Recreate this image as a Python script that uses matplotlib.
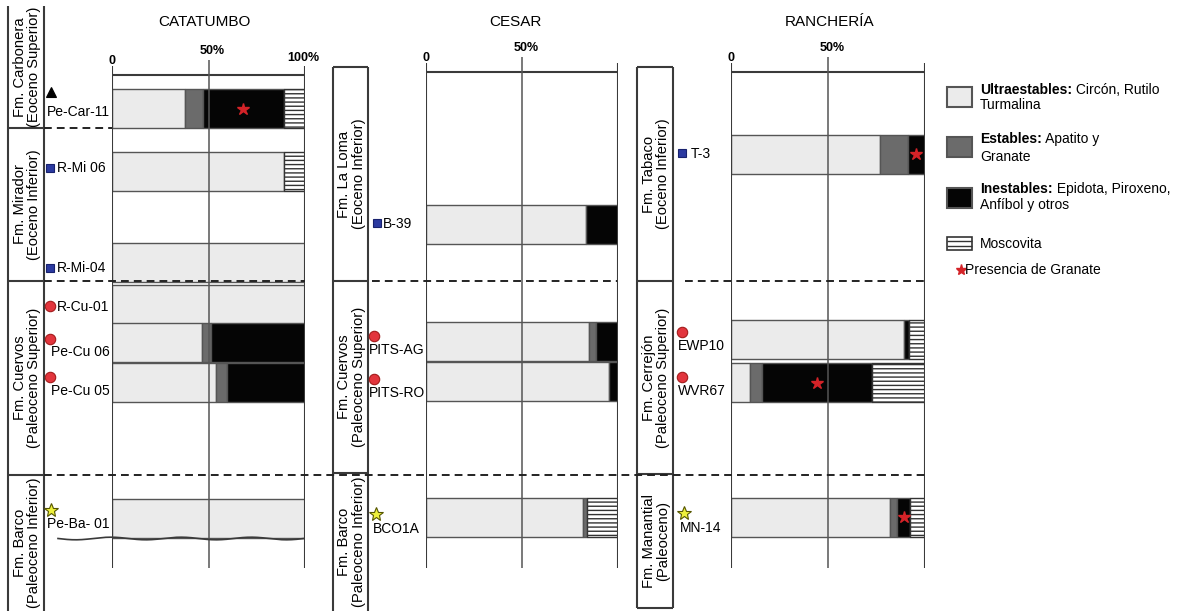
import numpy as np
import matplotlib.pyplot as plt
from matplotlib.patches import Rectangle

plt.rcParams['font.family'] = ['Liberation Sans', 'DejaVu Sans']
plt.rcParams['hatch.linewidth'] = 1.0

W, H = 1190, 611

# --- Catatumbo ---
cat_samples = ['Pe-Car-11', 'R-Mi 06', 'R-Mi-04', 'R-Cu-01', 'Pe-Cu 06', 'Pe-Cu 05', 'Pe-Ba- 01']
cat_ultra = [38, 89, 100, 100, 46.5, 54, 100]
cat_estable = [9, 0, 0, 0, 5, 5.5, 0]
cat_inestable = [42, 0, 0, 0, 48.5, 40.5, 0]
cat_moscovita = [11, 11, 0, 0, 0, 0, 0]
cat_granate = [True, False, False, False, False, False, False]
cat_symbol = ['^', 's', 's', 'o', 'o', 'o', '*']
cat_forms = ['Fm. Carbonera\n(Eoceno Superior)', 'Fm. Mirador\n(Eoceno Inferior)',
             'Fm. Cuervos\n(Paleoceno Superior)', 'Fm. Barco\n(Paleoceno Inferior)']

# --- Cesar ---
ces_samples = ['B-39', 'PITS-AG', 'PITS-RO', 'BCO1A']
ces_ultra = [83.5, 85, 95.5, 82]
ces_estable = [0, 3.5, 0, 2]
ces_inestable = [16.5, 11.5, 4.5, 0]
ces_moscovita = [0, 0, 0, 16]
ces_granate = [False, False, False, False]
ces_symbol = ['s', 'o', 'o', '*']
ces_forms = ['Fm. La Loma\n(Eoceno Inferior)', 'Fm. Cuervos\n(Paleoceno Superior)',
             'Fm. Barco\n(Paleoceno Inferior)']

# --- Rancheria ---
ran_samples = ['T-3', 'EWP10', 'WVR67', 'MN-14']
ran_ultra = [77, 89, 10, 82]
ran_estable = [14, 0, 6, 3.5]
ran_inestable = [9, 3, 56.5, 7]
ran_moscovita = [0, 8, 27.5, 7.5]
ran_granate = [True, False, True, True]
ran_symbol = ['s', 'o', 'o', '*']
ran_forms = ['Fm. Tabaco\n(Eoceno Inferior)', 'Fm. Cerrejón\n(Paleoceno Superior)',
             'Fm. Manantial\n(Paleoceno)']

fills = [('#ebebeb', None), ('#6b6b6b', None), ('#050505', None), ('white', '----')]
sym_style = {
    '^': dict(color='black', mec='black', ms=7),
    's': dict(color='#2b3aa0', mec='#18226e', ms=5.5),
    'o': dict(color='#e2353d', mec='#a31b1b', ms=7.5),
    '*': dict(color='#eef03c', mec='#555500', ms=10),
}
LINE = '#3a3a3a'
GRANATE = '#d42328'

fig = plt.figure(figsize=(W / 100, H / 100), dpi=100)


def draw_panel(name, x0, x100, top, ys, parts, granate, show100, title_x):
    ax = fig.add_axes([x0 / W, 0, (x100 - x0) / W, 1])
    ax.set_xlim(0, 100)
    ax.set_ylim(H, 0)
    ax.set_axis_off()
    ys = np.array(ys)
    left = np.zeros(len(ys))
    for vals, (fc, hatch) in zip(parts, fills):
        vals = np.array(vals, dtype=float)
        m = vals > 0
        ax.barh(ys[m], vals[m], left=left[m], height=39, color=fc,
                edgecolor='#333333' if hatch else '#555555', linewidth=1.0, hatch=hatch, zorder=2)
        left += vals
    # granate marks in the middle of the unstable fraction
    start = np.array(parts[0]) + np.array(parts[1])
    mid = start + np.array(parts[2]) / 2
    for yy, xx, g in zip(ys, mid, granate):
        if g:
            ax.plot(xx, yy, marker='*', color=GRANATE, ms=9, mec=GRANATE, zorder=4)
    ax.hlines(top, 0, 100, color=LINE, lw=1.5, zorder=3)
    ax.vlines([0, 100], top - 9, 568, color=LINE, lw=1.5, zorder=3)
    ax.vlines(50, top - 15, 568, color='#555555', lw=1.1, zorder=3)
    ax.text(0, top - 14, '0', ha='center', va='center', fontsize=9, fontweight='bold')
    ax.text(52, top - 24, '50%', ha='center', va='center', fontsize=9, fontweight='bold')
    if show100:
        ax.text(99, top - 17, '100%', ha='center', va='center', fontsize=9, fontweight='bold')
    ax.text(title_x, 22, name, ha='center', va='center', fontsize=11)
    return ax


draw_panel('CATATUMBO', 112, 305, 75, [108.5, 171, 262.5, 304, 342.5, 382, 518.5],
           [cat_ultra, cat_estable, cat_inestable, cat_moscovita], cat_granate, True, 48)
draw_panel('CESAR', 426, 618, 72, [224, 341.5, 381.5, 517],
           [ces_ultra, ces_estable, ces_inestable, ces_moscovita], ces_granate, False, 46.5)
draw_panel('RANCHERÍA', 731, 925, 72, [154, 339.5, 382.5, 517],
           [ran_ultra, ran_estable, ran_inestable, ran_moscovita], ran_granate, False, 51)

# overlay in pixel units for columns, labels, dashed limits and legend
ov = fig.add_axes([0, 0, 1, 1], zorder=5)
ov.set_xlim(0, W)
ov.set_ylim(H, 0)
ov.set_axis_off()


def draw_column(xl, xr, bounds, forms, closed_top, closed_bottom):
    ov.vlines([xl, xr], bounds[0], bounds[-1], color=LINE, lw=1.5)
    inner = bounds[1:-1]
    if closed_top:
        inner = [bounds[0]] + inner
    if closed_bottom:
        inner = inner + [bounds[-1]]
    ov.hlines(inner, xl, xr, color=LINE, lw=1.5)
    for lab, a, b in zip(forms, bounds[:-1], bounds[1:]):
        ov.text((xl + xr) / 2 + 1, (a + b) / 2, lab, rotation=90, ha='center', va='center',
                rotation_mode='anchor', fontsize=10.6, linespacing=1.0, multialignment='center')


draw_column(8, 44, [6, 128, 281, 475, 611], cat_forms, False, False)
draw_column(333, 368, [67, 281, 473, 611], ces_forms, True, False)
draw_column(637, 673, [67, 281, 474, 608], ran_forms, True, True)


def draw_labels(samples, symbols, mark_xy, text_xy):
    for s, sym, (mx, my), (tx, ty) in zip(samples, symbols, mark_xy, text_xy):
        ov.plot(mx, my, marker=sym, linestyle='none', mew=0.8, **sym_style[sym])
        ov.text(tx, ty, s, ha='left', va='center', fontsize=10)


draw_labels(cat_samples, cat_symbol,
            [(51, 92), (50, 168), (50, 268), (50, 306), (50, 339), (50, 377), (51, 510)],
            [(47, 112), (57, 168), (57, 268), (57, 307), (51, 352), (51, 391), (47, 524)])
draw_labels(ces_samples, ces_symbol,
            [(377, 223), (374, 336), (374, 379), (376, 514)],
            [(383, 224), (369, 350), (369, 393), (373, 529)])
draw_labels(ran_samples, ran_symbol,
            [(682, 153), (682, 332), (682, 377), (684, 513)],
            [(691, 154), (678, 346), (678, 391), (680, 528)])

# dashed formation limits
dash = dict(color='#222222', lw=1.4, linestyle=(0, (4, 2.6)))
ov.hlines(128, 44, 112, **dash)
for a, b in [(44, 305), (372, 617), (685, 925)]:
    ov.hlines(280.5, a, b, **dash)
ov.hlines(474.5, 44, 925, **dash)

# erosive base under Pe-Ba-01
xs = np.linspace(58, 304, 300)
ov.plot(xs, 538.5 + 1.3 * np.sin((xs - 58) / 246 * 2 * np.pi * 3.5), color=LINE, lw=1.2)

# legend
leg_fs = 10
leg = [('#ebebeb', 87, 'Ultraestables:', ' Circón, Rutilo', 'Turmalina', 90, 105),
       ('#6b6b6b', 137, 'Estables:', ' Apatito y', 'Granate', 139, 157),
       ('#050505', 188, 'Inestables:', ' Epidota, Piroxeno,', 'Anfíbol y otros', 189, 205)]
for fc, ytop, bold, rest, line2, y1, y2 in leg:
    ov.add_patch(Rectangle((947, ytop), 25, 20, facecolor=fc, edgecolor='#555555', lw=1.5))
    t = ov.text(980, y1, bold, fontweight='bold', fontsize=leg_fs, va='center', ha='left')
    ov.annotate(rest, xy=(1, 0.5), xycoords=t, va='center', ha='left', fontsize=leg_fs)
    ov.text(980, y2, line2, fontsize=leg_fs, va='center', ha='left')
ov.add_patch(Rectangle((947, 237), 25, 13, facecolor='white', edgecolor='#333333', lw=1.2))
ov.hlines([241.3, 245.6], 947, 972, color='#333333', lw=1.0)
ov.text(980, 243.5, 'Moscovita', fontsize=leg_fs, va='center', ha='left')
ov.plot(961, 270, marker='*', color=GRANATE, ms=8)
ov.text(965, 270, 'Presencia de Granate', fontsize=leg_fs, va='center', ha='left')

fig.savefig('out.png', dpi=100)
